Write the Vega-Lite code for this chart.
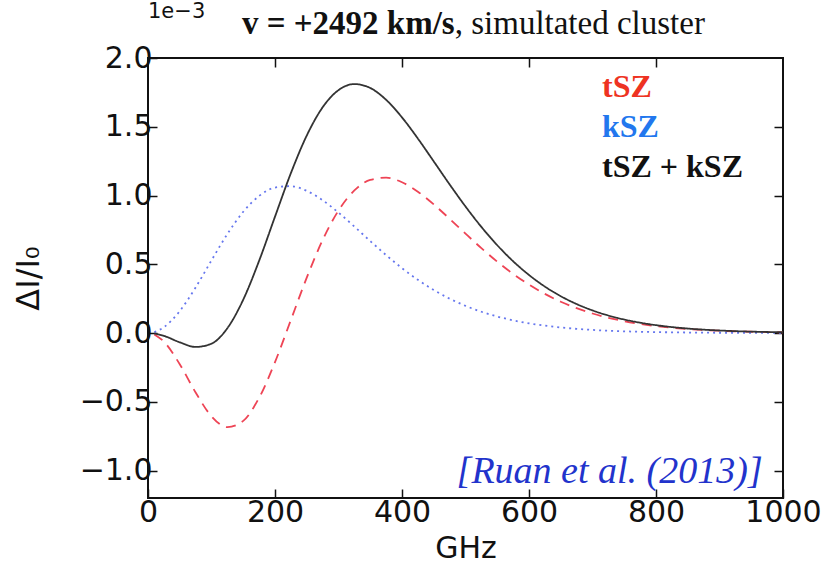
{
  "$schema": "https://vega.github.io/schema/vega-lite/v6.json",
  "width": 635,
  "height": 440,
  "autosize": "none",
  "padding": {"left": 148, "top": 58, "right": 50, "bottom": 73},
  "background": "white",
  "config": {
    "view": {"stroke": "#111", "strokeWidth": 2},
    "axis": {
      "domain": false,
      "grid": false,
      "tickColor": "#111",
      "tickSize": -9,
      "tickWidth": 1.5,
      "labelFont": "DejaVu Sans",
      "labelFontSize": 30,
      "labelColor": "#111",
      "titleFont": "DejaVu Sans",
      "titleFontSize": 30,
      "titleFontWeight": "normal",
      "titleColor": "#111"
    }
  },
  "resolve": {"axis": {"x": "independent", "y": "independent"}},
  "datasets": {
    "curves": [
      {"nu": 10, "series": "tSZ", "v": -0.0103}, {"nu": 25, "series": "tSZ", "v": -0.0626}, {"nu": 50, "series": "tSZ", "v": -0.2270}, {"nu": 75, "series": "tSZ", "v": -0.4328}, {"nu": 100, "series": "tSZ", "v": -0.6059}, {"nu": 125, "series": "tSZ", "v": -0.6851}, {"nu": 150, "series": "tSZ", "v": -0.6389}, {"nu": 175, "series": "tSZ", "v": -0.4710}, {"nu": 200, "series": "tSZ", "v": -0.2118}, {"nu": 225, "series": "tSZ", "v": 0.0945}, {"nu": 250, "series": "tSZ", "v": 0.4025}, {"nu": 275, "series": "tSZ", "v": 0.6758}, {"nu": 300, "series": "tSZ", "v": 0.8906}, {"nu": 325, "series": "tSZ", "v": 1.0366}, {"nu": 350, "series": "tSZ", "v": 1.1134}, {"nu": 375, "series": "tSZ", "v": 1.1295}, {"nu": 400, "series": "tSZ", "v": 1.0964}, {"nu": 425, "series": "tSZ", "v": 1.0274}, {"nu": 450, "series": "tSZ", "v": 0.9352}, {"nu": 475, "series": "tSZ", "v": 0.8306}, {"nu": 500, "series": "tSZ", "v": 0.7225}, {"nu": 525, "series": "tSZ", "v": 0.6170}, {"nu": 550, "series": "tSZ", "v": 0.5186}, {"nu": 575, "series": "tSZ", "v": 0.4296}, {"nu": 600, "series": "tSZ", "v": 0.3515}, {"nu": 625, "series": "tSZ", "v": 0.2843}, {"nu": 650, "series": "tSZ", "v": 0.2276}, {"nu": 675, "series": "tSZ", "v": 0.1805}, {"nu": 700, "series": "tSZ", "v": 0.1419}, {"nu": 725, "series": "tSZ", "v": 0.1107}, {"nu": 750, "series": "tSZ", "v": 0.0857}, {"nu": 775, "series": "tSZ", "v": 0.0659}, {"nu": 800, "series": "tSZ", "v": 0.0504}, {"nu": 825, "series": "tSZ", "v": 0.0383}, {"nu": 850, "series": "tSZ", "v": 0.0289}, {"nu": 875, "series": "tSZ", "v": 0.0218}, {"nu": 900, "series": "tSZ", "v": 0.0163}, {"nu": 925, "series": "tSZ", "v": 0.0121}, {"nu": 950, "series": "tSZ", "v": 0.0090}, {"nu": 975, "series": "tSZ", "v": 0.0067}, {"nu": 1000, "series": "tSZ", "v": 0.0049},
      {"nu": 10, "series": "kSZ", "v": 0.0068}, {"nu": 25, "series": "kSZ", "v": 0.0418}, {"nu": 50, "series": "kSZ", "v": 0.1594}, {"nu": 75, "series": "kSZ", "v": 0.3314}, {"nu": 100, "series": "kSZ", "v": 0.5284}, {"nu": 125, "series": "kSZ", "v": 0.7202}, {"nu": 150, "series": "kSZ", "v": 0.8816}, {"nu": 175, "series": "kSZ", "v": 0.9964}, {"nu": 200, "series": "kSZ", "v": 1.0579}, {"nu": 225, "series": "kSZ", "v": 1.0680}, {"nu": 250, "series": "kSZ", "v": 1.0335}, {"nu": 275, "series": "kSZ", "v": 0.9656}, {"nu": 300, "series": "kSZ", "v": 0.8756}, {"nu": 325, "series": "kSZ", "v": 0.7739}, {"nu": 350, "series": "kSZ", "v": 0.6685}, {"nu": 375, "series": "kSZ", "v": 0.5664}, {"nu": 400, "series": "kSZ", "v": 0.4716}, {"nu": 425, "series": "kSZ", "v": 0.3867}, {"nu": 450, "series": "kSZ", "v": 0.3128}, {"nu": 475, "series": "kSZ", "v": 0.2500}, {"nu": 500, "series": "kSZ", "v": 0.1976}, {"nu": 525, "series": "kSZ", "v": 0.1546}, {"nu": 550, "series": "kSZ", "v": 0.1199}, {"nu": 575, "series": "kSZ", "v": 0.0922}, {"nu": 600, "series": "kSZ", "v": 0.0704}, {"nu": 625, "series": "kSZ", "v": 0.0533}, {"nu": 650, "series": "kSZ", "v": 0.0402}, {"nu": 675, "series": "kSZ", "v": 0.0301}, {"nu": 700, "series": "kSZ", "v": 0.0224}, {"nu": 725, "series": "kSZ", "v": 0.0166}, {"nu": 750, "series": "kSZ", "v": 0.0122}, {"nu": 775, "series": "kSZ", "v": 0.0090}, {"nu": 800, "series": "kSZ", "v": 0.0066}, {"nu": 825, "series": "kSZ", "v": 0.0048}, {"nu": 850, "series": "kSZ", "v": 0.0035}, {"nu": 875, "series": "kSZ", "v": 0.0025}, {"nu": 900, "series": "kSZ", "v": 0.0018}, {"nu": 925, "series": "kSZ", "v": 0.0013}, {"nu": 950, "series": "kSZ", "v": 0.0009}, {"nu": 975, "series": "kSZ", "v": 0.0007}, {"nu": 1000, "series": "kSZ", "v": 0.0005},
      {"nu": 10, "series": "tSZ + kSZ", "v": -0.0035}, {"nu": 25, "series": "tSZ + kSZ", "v": -0.0208}, {"nu": 50, "series": "tSZ + kSZ", "v": -0.0676}, {"nu": 75, "series": "tSZ + kSZ", "v": -0.1014}, {"nu": 100, "series": "tSZ + kSZ", "v": -0.0775}, {"nu": 125, "series": "tSZ + kSZ", "v": 0.0351}, {"nu": 150, "series": "tSZ + kSZ", "v": 0.2427}, {"nu": 175, "series": "tSZ + kSZ", "v": 0.5254}, {"nu": 200, "series": "tSZ + kSZ", "v": 0.8461}, {"nu": 225, "series": "tSZ + kSZ", "v": 1.1625}, {"nu": 250, "series": "tSZ + kSZ", "v": 1.4360}, {"nu": 275, "series": "tSZ + kSZ", "v": 1.6414}, {"nu": 300, "series": "tSZ + kSZ", "v": 1.7662}, {"nu": 325, "series": "tSZ + kSZ", "v": 1.8105}, {"nu": 350, "series": "tSZ + kSZ", "v": 1.7819}, {"nu": 375, "series": "tSZ + kSZ", "v": 1.6959}, {"nu": 400, "series": "tSZ + kSZ", "v": 1.5680}, {"nu": 425, "series": "tSZ + kSZ", "v": 1.4141}, {"nu": 450, "series": "tSZ + kSZ", "v": 1.2480}, {"nu": 475, "series": "tSZ + kSZ", "v": 1.0806}, {"nu": 500, "series": "tSZ + kSZ", "v": 0.9201}, {"nu": 525, "series": "tSZ + kSZ", "v": 0.7716}, {"nu": 550, "series": "tSZ + kSZ", "v": 0.6385}, {"nu": 575, "series": "tSZ + kSZ", "v": 0.5218}, {"nu": 600, "series": "tSZ + kSZ", "v": 0.4219}, {"nu": 625, "series": "tSZ + kSZ", "v": 0.3376}, {"nu": 650, "series": "tSZ + kSZ", "v": 0.2678}, {"nu": 675, "series": "tSZ + kSZ", "v": 0.2106}, {"nu": 700, "series": "tSZ + kSZ", "v": 0.1643}, {"nu": 725, "series": "tSZ + kSZ", "v": 0.1273}, {"nu": 750, "series": "tSZ + kSZ", "v": 0.0980}, {"nu": 775, "series": "tSZ + kSZ", "v": 0.0749}, {"nu": 800, "series": "tSZ + kSZ", "v": 0.0570}, {"nu": 825, "series": "tSZ + kSZ", "v": 0.0431}, {"nu": 850, "series": "tSZ + kSZ", "v": 0.0324}, {"nu": 875, "series": "tSZ + kSZ", "v": 0.0243}, {"nu": 900, "series": "tSZ + kSZ", "v": 0.0181}, {"nu": 925, "series": "tSZ + kSZ", "v": 0.0134}, {"nu": 950, "series": "tSZ + kSZ", "v": 0.0099}, {"nu": 975, "series": "tSZ + kSZ", "v": 0.0073}, {"nu": 1000, "series": "tSZ + kSZ", "v": 0.0054}
    ]
  },
  "layer": [
    {
      "mark": {"type": "rule", "color": "#111", "strokeWidth": 1.6},
      "encoding": {"y": {"datum": 0, "type": "quantitative", "axis": null}}
    },
    {
      "data": {"name": "curves"},
      "mark": {"type": "line", "interpolate": "monotone", "strokeWidth": 1.8},
      "encoding": {
        "x": {"field": "nu", "type": "quantitative", "scale": {"domain": [0, 1000], "nice": false},
          "axis": {"orient": "bottom", "values": [0, 200, 400, 600, 800, 1000], "format": "d", "title": "GHz", "labelPadding": 8, "titlePadding": 6, "labelFlush": false}},
        "y": {"field": "v", "type": "quantitative", "scale": {"domain": [-1.2, 2.0], "nice": false, "zero": false},
          "axis": {"orient": "left", "values": [-1.0, -0.5, 0, 0.5, 1.0, 1.5, 2.0], "format": ".1f", "title": "ΔI/I₀", "titleFontSize": 32, "labelPadding": 5, "titlePadding": 34}},
        "color": {"field": "series", "type": "nominal", "legend": null,
          "scale": {"domain": ["tSZ", "kSZ", "tSZ + kSZ"], "range": ["#ee4455", "#6677ee", "#333333"]}},
        "strokeDash": {"field": "series", "type": "nominal", "legend": null,
          "scale": {"domain": ["tSZ", "kSZ", "tSZ + kSZ"], "range": [[10, 7], [2, 4], [1, 0]]}}
      }
    },
    {
      "data": {"name": "curves"},
      "mark": {"type": "line", "opacity": 0},
      "encoding": {
        "x": {"field": "nu", "type": "quantitative", "axis": {"orient": "top", "values": [200, 400, 600, 800], "labels": false, "title": null}},
        "y": {"field": "v", "type": "quantitative", "axis": {"orient": "right", "values": [-1.0, -0.5, 0, 0.5, 1.0, 1.5], "labels": false, "title": null}}
      }
    },
    {
      "data": {"values": [{"x": 483, "y": 2.175, "t": "v = +2492 km/s"}]},
      "mark": {"type": "text", "font": "Liberation Serif", "fontSize": 33, "fontWeight": "bold", "align": "right", "baseline": "alphabetic", "clip": false, "color": "#111"},
      "encoding": {"x": {"field": "x", "type": "quantitative", "axis": null}, "y": {"field": "y", "type": "quantitative", "axis": null}, "text": {"field": "t"}}
    },
    {
      "data": {"values": [{"x": 483, "y": 2.175, "t": ", simultated cluster"}]},
      "mark": {"type": "text", "font": "Liberation Serif", "fontSize": 33, "align": "left", "baseline": "alphabetic", "clip": false, "color": "#111"},
      "encoding": {"x": {"field": "x", "type": "quantitative", "axis": null}, "y": {"field": "y", "type": "quantitative", "axis": null}, "text": {"field": "t"}}
    },
    {
      "data": {"values": [{"x": 0, "y": 2.29, "t": "1e−3"}]},
      "mark": {"type": "text", "font": "DejaVu Sans", "fontSize": 21, "align": "left", "baseline": "alphabetic", "clip": false, "color": "#111"},
      "encoding": {"x": {"field": "x", "type": "quantitative", "axis": null}, "y": {"field": "y", "type": "quantitative", "axis": null}, "text": {"field": "t"}}
    },
    {
      "data": {"values": [
        {"x": 715, "y": 1.716, "t": "tSZ", "c": "tSZ"},
        {"x": 715, "y": 1.425, "t": "kSZ", "c": "kSZ"},
        {"x": 715, "y": 1.135, "t": "tSZ + kSZ", "c": "sum"}
      ]},
      "mark": {"type": "text", "font": "Liberation Serif", "fontSize": 32, "fontWeight": "bold", "align": "left", "baseline": "alphabetic"},
      "encoding": {
        "x": {"field": "x", "type": "quantitative", "axis": null}, "y": {"field": "y", "type": "quantitative", "axis": null}, "text": {"field": "t"},
        "fill": {"field": "c", "type": "nominal", "legend": null, "scale": {"domain": ["tSZ", "kSZ", "sum"], "range": ["#ee3322", "#2277ee", "#111111"]}}
      }
    },
    {
      "data": {"values": [{"x": 968, "y": -1.09, "t": "[Ruan et al. (2013)]"}]},
      "mark": {"type": "text", "font": "Liberation Serif", "fontSize": 38, "fontStyle": "italic", "align": "right", "baseline": "alphabetic", "color": "#2233cc"},
      "encoding": {"x": {"field": "x", "type": "quantitative", "axis": null}, "y": {"field": "y", "type": "quantitative", "axis": null}, "text": {"field": "t"}}
    }
  ]
}
